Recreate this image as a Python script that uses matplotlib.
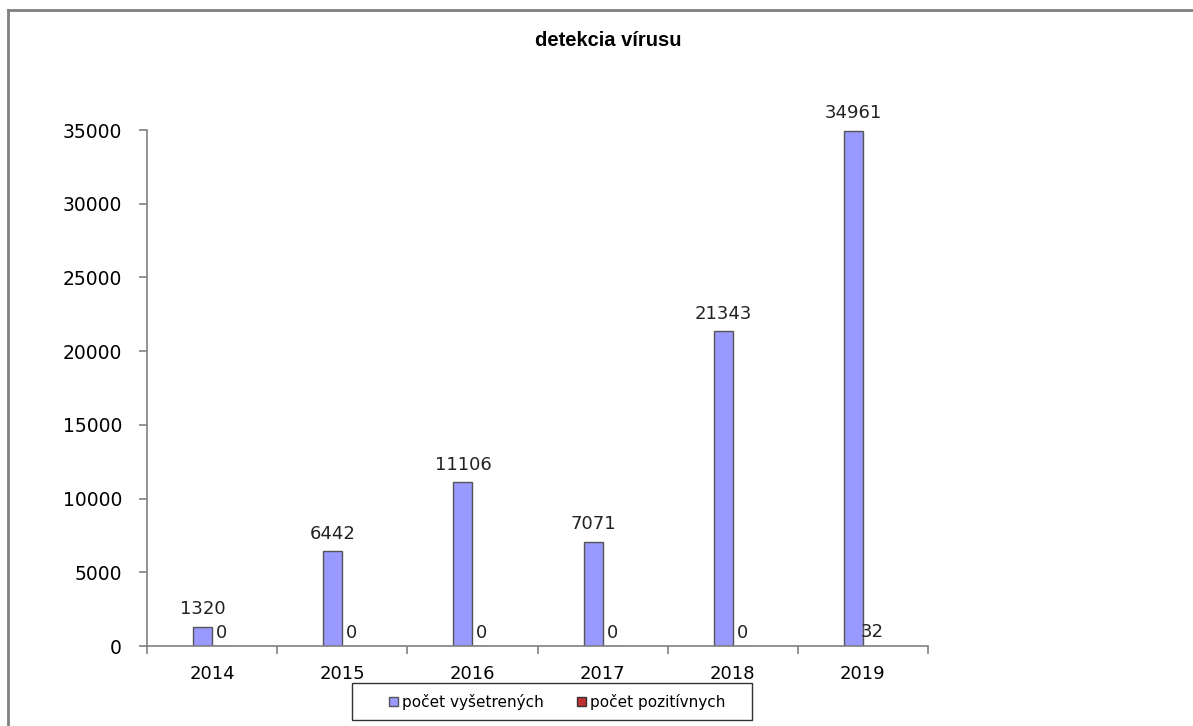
import numpy as np
import matplotlib.pyplot as plt
from matplotlib.lines import Line2D
from matplotlib.patches import Rectangle

# ---------------------------------------------------------
# Data
# ---------------------------------------------------------

years = ["2014", "2015", "2016", "2017", "2018", "2019"]
tested = [1320, 6442, 11106, 7071, 21343, 34961]
positive = [0, 0, 0, 0, 0, 32]

W, H = 1193, 726

fig = plt.figure(figsize=(W / 100, H / 100), dpi=100)
fig.patch.set_facecolor("white")

ax = fig.add_axes([147 / W, (H - 646) / H, (928 - 147) / W, (646 - 130) / H])

x = np.arange(len(years))
width = 0.146

b1 = ax.bar(x - width / 2, tested, width, color="#9999FF",
            edgecolor="#555555", linewidth=1.0, label="počet vyšetrených")
b2 = ax.bar(x + width / 2, positive, width, color="#C03030",
            edgecolor="#333333", linewidth=1.0, label="počet pozitívnych")

for rect, v in zip(b1, tested):
    ax.annotate(str(v), (rect.get_x() + rect.get_width() / 2, v),
                xytext=(0, 6), textcoords="offset points",
                ha="center", va="bottom", fontsize=13, color="#222222")
for rect, v in zip(b2, positive):
    ax.annotate(str(v), (rect.get_x() + rect.get_width() / 2, v),
                xytext=(0, 3), textcoords="offset points",
                ha="center", va="bottom", fontsize=13, color="#222222")

ax.set_xlim(-0.5, len(years) - 0.5)
ax.set_ylim(0, 35000)
ax.set_yticks(np.arange(0, 35001, 5000))

ax.set_xticks(x)
ax.set_xticklabels(years)
ax.set_xticks(np.arange(-0.5, len(years), 1.0), minor=True)
ax.tick_params(axis="x", which="major", length=0, pad=14, labelsize=13)
ax.tick_params(axis="x", which="minor", length=6, color="#808080", width=1.2)
ax.tick_params(axis="y", length=6, color="#808080", width=1.2,
               labelsize=13.5, pad=12)

for side in ["top", "right"]:
    ax.spines[side].set_visible(False)
for side in ["left", "bottom"]:
    ax.spines[side].set_color("#808080")
    ax.spines[side].set_linewidth(1.2)

fig.text(608 / W, (H - 40) / H, "detekcia vírusu", ha="center", va="center",
         fontsize=14.5, fontweight="bold", family="Liberation Sans")

# legend box drawn separately, legend entries centred inside
fig.add_artist(Rectangle((352 / W, (H - 720) / H), 400 / W, 37 / H,
                         transform=fig.transFigure, facecolor="white",
                         edgecolor="#333333", linewidth=1.0))
leg = fig.legend(loc="center", bbox_to_anchor=(557 / W, (H - 702) / H),
                 ncol=2, fontsize=11, frameon=False,
                 handlelength=0.6, handleheight=0.6, handletextpad=0.25,
                 columnspacing=2.2, borderpad=0.0)

# outer chart frame (runs off the right and bottom edges)
fig.add_artist(Line2D([8 / W, 1.0], [(H - 10) / H] * 2,
                      transform=fig.transFigure, color="#808080", linewidth=2))
fig.add_artist(Line2D([8 / W] * 2, [0.0, (H - 10) / H],
                      transform=fig.transFigure, color="#808080", linewidth=2))

fig.savefig("out.png", dpi=100)
